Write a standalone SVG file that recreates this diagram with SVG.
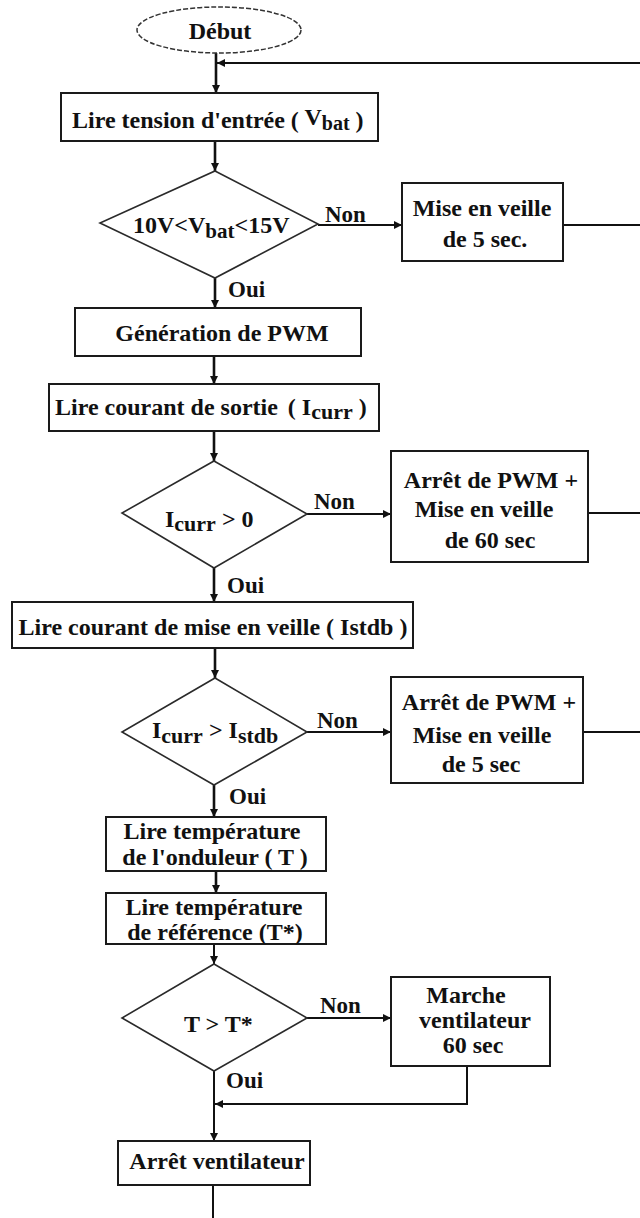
<svg xmlns="http://www.w3.org/2000/svg" width="640" height="1218" viewBox="0 0 640 1218">
<style>
.bg{fill:#fff}
.box{fill:#fff;stroke:#1a1a1a;stroke-width:2}
.dia{fill:#fff;stroke:#2a2a2a;stroke-width:1.6}
.ell{fill:#fff;stroke:#333;stroke-width:1.5;stroke-dasharray:5 2}
.t{font-family:"Liberation Serif","Times New Roman",serif;font-weight:bold;font-size:24px;fill:#111}
.tm{text-anchor:middle}
.lbl{font-family:"Liberation Serif","Times New Roman",serif;font-weight:bold;font-size:23px;fill:#111}
.c{fill:none;stroke:#111;stroke-width:2}
.ct{fill:none;stroke:#111;stroke-width:2.6}
</style>
<defs>
<marker id="ah" viewBox="0 0 10 10" refX="10" refY="5" markerWidth="9" markerHeight="8" markerUnits="userSpaceOnUse" orient="auto"><path d="M0,0 L10,5 L0,10 z" fill="#111"/></marker>
</defs>
<rect class="bg" x="0" y="0" width="640" height="1218"/>

<g id="connectors">
<line class="ct" x1="216" y1="53" x2="216" y2="93" marker-end="url(#ah)"/>
<line class="c" x1="640" y1="63" x2="217" y2="63" marker-end="url(#ah)"/>
<line class="ct" x1="215" y1="141" x2="215" y2="171" marker-end="url(#ah)"/>
<line class="c" x1="318" y1="225" x2="402" y2="225" marker-end="url(#ah)"/>
<line class="c" x1="563" y1="225" x2="640" y2="225"/>
<line class="ct" x1="215" y1="278" x2="215" y2="308" marker-end="url(#ah)"/>
<line class="ct" x1="214" y1="356" x2="214" y2="384" marker-end="url(#ah)"/>
<line class="ct" x1="214" y1="431" x2="214" y2="461" marker-end="url(#ah)"/>
<line class="c" x1="307" y1="514" x2="391" y2="514" marker-end="url(#ah)"/>
<line class="c" x1="588" y1="513" x2="640" y2="513"/>
<line class="ct" x1="214" y1="568" x2="214" y2="602" marker-end="url(#ah)"/>
<line class="ct" x1="215" y1="648" x2="215" y2="678" marker-end="url(#ah)"/>
<line class="c" x1="307" y1="732" x2="391" y2="732" marker-end="url(#ah)"/>
<line class="c" x1="583" y1="732" x2="640" y2="732"/>
<line class="ct" x1="214" y1="785" x2="214" y2="817" marker-end="url(#ah)"/>
<line class="ct" x1="216" y1="871" x2="216" y2="893" marker-end="url(#ah)"/>
<line class="c" x1="214" y1="944" x2="214" y2="964" marker-end="url(#ah)"/>
<line class="c" x1="307" y1="1018" x2="391" y2="1018" marker-end="url(#ah)"/>
<polyline class="c" points="467,1066 467,1104 215,1104" marker-end="url(#ah)"/>
<line class="c" x1="214" y1="1071" x2="214" y2="1141" marker-end="url(#ah)"/>
<line class="c" x1="213" y1="1185" x2="213" y2="1218"/>
</g>

<g id="debut">
<ellipse class="ell" cx="219" cy="30" rx="82" ry="23"/>
<text class="t tm" x="220" y="39">Début</text>
</g>

<g id="lire-tension">
<rect class="box" x="61" y="93" width="317" height="48"/>
<text class="t" x="72" y="128">Lire tension d'entrée ( <tspan dy="-3">V</tspan><tspan font-size="20" dy="5">bat</tspan><tspan dy="-2"> )</tspan></text>
</g>

<g id="test-vbat">
<polygon class="dia" points="215,171 318,224 215,278 100,223"/>
<text class="t" x="133" y="233">10V&lt;V<tspan font-size="21" dy="5">bat</tspan><tspan dy="-5">&lt;15V</tspan></text>
</g>
<text class="lbl" x="325" y="222">Non</text>
<text class="lbl" x="228" y="297">Oui</text>

<g id="veille-5s-a">
<rect class="box" x="402" y="183" width="161" height="78"/>
<text class="t tm" x="482" y="216">Mise en veille</text>
<text class="t tm" x="485" y="247">de 5 sec.</text>
</g>

<g id="generation-pwm">
<rect class="box" x="75" y="308" width="286" height="48"/>
<text class="t tm" x="222" y="341">Génération de PWM</text>
</g>

<g id="lire-courant-sortie">
<rect class="box" x="49" y="384" width="330" height="47"/>
<text class="t" x="55" y="415">Lire courant de sortie<tspan dx="10">( I</tspan><tspan font-size="22" dy="4">curr</tspan><tspan dy="-4"> )</tspan></text>
</g>

<g id="test-icurr">
<polygon class="dia" points="214,461 307,514 214,568 122,513"/>
<text class="t" x="165" y="527">I<tspan font-size="22" dy="4">curr</tspan><tspan dy="-4"> &gt; 0</tspan></text>
</g>
<text class="lbl" x="314" y="509">Non</text>
<text class="lbl" x="227" y="593">Oui</text>

<g id="arret-60s">
<rect class="box" x="391" y="451" width="197" height="111"/>
<text class="t tm" x="491" y="488">Arrêt de PWM +</text>
<text class="t tm" x="484" y="517">Mise en veille</text>
<text class="t tm" x="490" y="548">de 60 sec</text>
</g>

<g id="lire-courant-veille">
<rect class="box" x="12" y="602" width="401" height="46"/>
<text class="t tm" x="213" y="635">Lire courant de mise en veille ( Istdb )</text>
</g>

<g id="test-istdb">
<polygon class="dia" points="215,678 307,732 214,785 122,732"/>
<text class="t" x="152" y="738">I<tspan font-size="22" dy="5">curr</tspan><tspan dy="-5"> &gt; I</tspan><tspan font-size="22" dy="5">stdb</tspan></text>
</g>
<text class="lbl" x="317" y="728">Non</text>
<text class="lbl" x="229" y="804">Oui</text>

<g id="arret-5s">
<rect class="box" x="391" y="677" width="192" height="106"/>
<text class="t tm" x="489" y="710">Arrêt de PWM +</text>
<text class="t tm" x="482" y="743">Mise en veille</text>
<text class="t tm" x="481" y="772">de 5 sec</text>
</g>

<g id="lire-temp">
<rect class="box" x="106" y="817" width="220" height="54"/>
<text class="t tm" x="212" y="839">Lire température</text>
<text class="t tm" x="215" y="865">de l'onduleur ( T )</text>
</g>

<g id="lire-temp-ref">
<rect class="box" x="106" y="893" width="220" height="51"/>
<text class="t tm" x="214" y="915">Lire température</text>
<text class="t tm" x="215" y="940">de référence (T*)</text>
</g>

<g id="test-temp">
<polygon class="dia" points="214,964 307,1018 214,1071 122,1018"/>
<text class="t" x="184" y="1032">T &gt; T*</text>
</g>
<text class="lbl" x="320" y="1013">Non</text>
<text class="lbl" x="226" y="1088">Oui</text>

<g id="marche-ventilateur">
<rect class="box" x="391" y="977" width="159" height="89"/>
<text class="t tm" x="466" y="1003">Marche</text>
<text class="t tm" x="475" y="1028">ventilateur</text>
<text class="t tm" x="473" y="1053">60 sec</text>
</g>

<g id="arret-ventilateur">
<rect class="box" x="118" y="1141" width="192" height="44"/>
<text class="t tm" x="217" y="1169">Arrêt ventilateur</text>
</g>
</svg>
